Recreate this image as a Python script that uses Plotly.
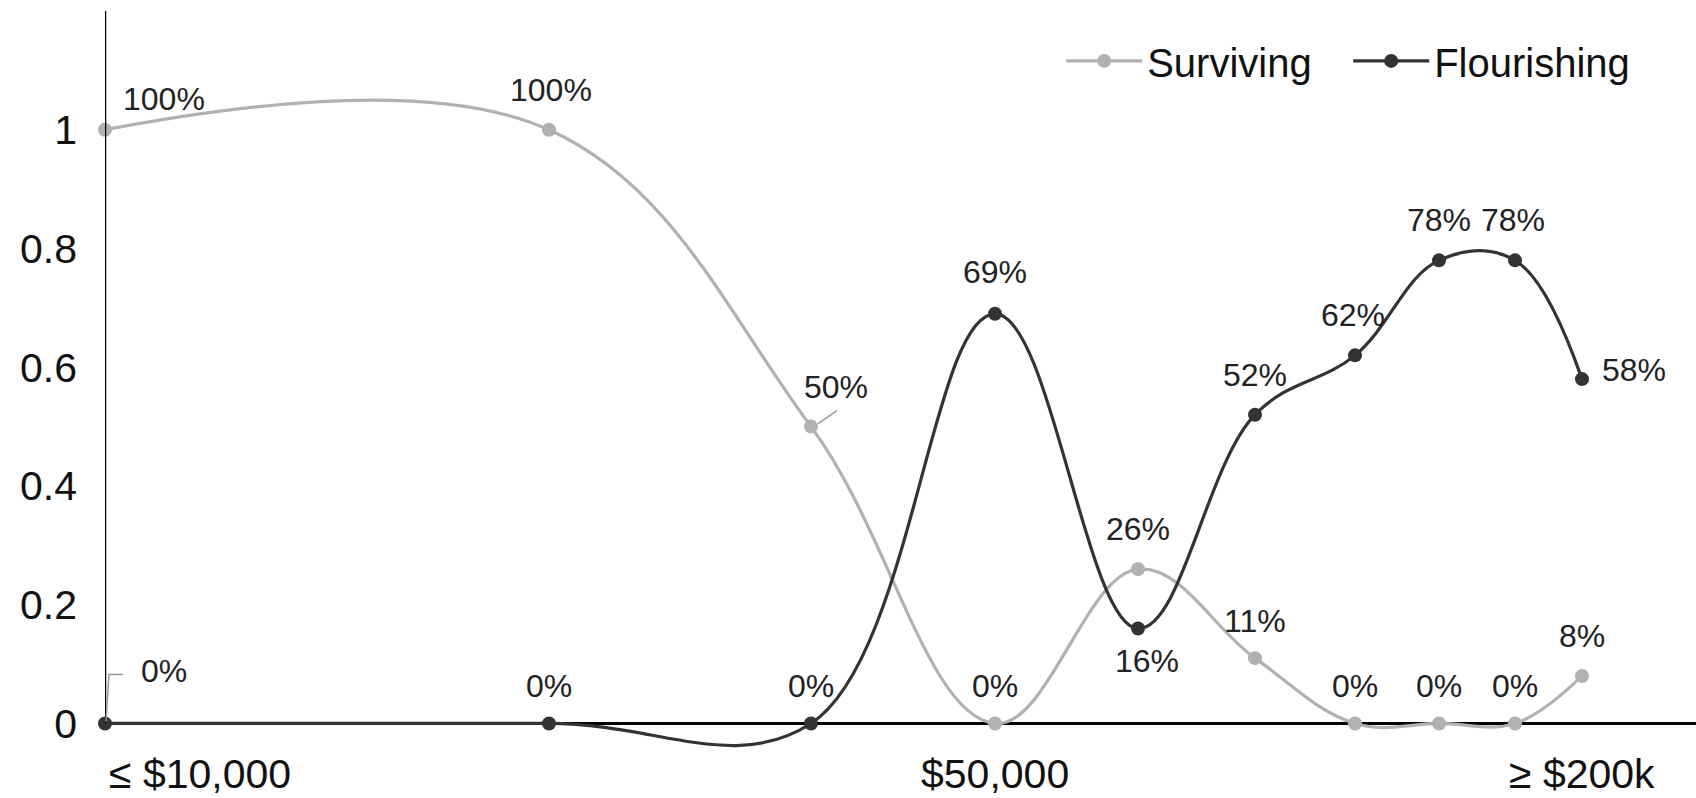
import plotly.graph_objects as go

# Income brackets (only three carry an axis label) and their horizontal positions
bracket_labels = ["≤ $10,000", "", "", "$50,000", "", "", "", "", "", "≥ $200k"]
bracket_pos = [0, 4.44, 7.06, 8.90, 10.33, 11.50, 12.50, 13.34, 14.10, 14.77]

# Share of respondents in each bracket
surviving = [1.00, 1.00, 0.50, 0.00, 0.26, 0.11, 0.00, 0.00, 0.00, 0.08]
flourishing = [0.00, 0.00, 0.00, 0.69, 0.16, 0.52, 0.62, 0.78, 0.78, 0.58]

y_tickvals = [0, 0.2, 0.4, 0.6, 0.8, 1]
y_ticktext = ["0", "0.2", "0.4", "0.6", "0.8", "1"]

FONT = "Liberation Sans, Arial, Helvetica, sans-serif"
GREY = "#b1b1b1"
DARK = "#333333"

# pixel offsets of each value label from its point
surv_off = [(59, 31), (2, 40), (25, 40), (0, 37), (0, 40), (0, 37), (0, 37), (0, 37), (0, 37), (0, 40)]
flour_off = [(59, 52), (0, 37), (0, 37), (0, 42), (9, -33), (0, 40), (-2, 40), (0, 40), (-2, 40), (52, 9)]

fig = go.Figure()
fig.add_trace(go.Scatter(
    x=bracket_pos, y=surviving, name="Surviving", mode="lines+markers",
    line=dict(color=GREY, width=3.2, shape="spline", smoothing=1.1),
    marker=dict(color=GREY, size=14), cliponaxis=False,
))
fig.add_trace(go.Scatter(
    x=bracket_pos, y=flourishing, name="Flourishing", mode="lines+markers",
    line=dict(color=DARK, width=3.2, shape="spline", smoothing=1.1),
    marker=dict(color=DARK, size=14), cliponaxis=False,
))

annotations = []
for series, offs in ((surviving, surv_off), (flourishing, flour_off)):
    for xv, yv, (dx, dy) in zip(bracket_pos, series, offs):
        annotations.append(dict(
            x=xv, y=yv, xref="x", yref="y", text=f"{round(yv * 100)}%",
            showarrow=False, xshift=dx, yshift=dy,
            font=dict(family=FONT, size=32, color="#222222"),
        ))

# bracket labels under the axis
for xv, lab in zip(bracket_pos, bracket_labels):
    if not lab:
        continue
    first = xv == bracket_pos[0]
    annotations.append(dict(
        x=xv, y=0, xref="x", yref="paper", text=lab, showarrow=False,
        xanchor="left" if first else "center", yanchor="top",
        xshift=2 if first else 0, yshift=19,
        font=dict(family=FONT, size=41, color="#111111"),
    ))

shapes = [
    # vertical axis from 0 up to the top of the range
    dict(type="line", xref="x", yref="y", x0=0, x1=0, y0=0, y1=1.2,
         line=dict(color="black", width=2.5), layer="above"),
    # leader lines for the two offset labels
    dict(type="path", xref="x", yref="y", xsizemode="pixel", ysizemode="pixel",
         xanchor=bracket_pos[0], yanchor=flourishing[0],
         path="M 1 2 L 4 49 L 18 49", line=dict(color="#999999", width=1.5)),
    dict(type="path", xref="x", yref="y", xsizemode="pixel", ysizemode="pixel",
         xanchor=bracket_pos[2], yanchor=surviving[2],
         path="M 7 3 L 26 16", line=dict(color="#999999", width=1.5)),
]

fig.update_layout(
    width=1696, height=798,
    margin=dict(l=105, r=0, t=11, b=30),
    paper_bgcolor="white", plot_bgcolor="white",
    font=dict(family=FONT, color="#111111"),
    showlegend=True,
    legend=dict(orientation="h", x=0.601, y=0.977, xanchor="left", yanchor="top",
                font=dict(family=FONT, size=40, color="#111111"),
                itemwidth=76, entrywidth=196, entrywidthmode="pixels",
                bgcolor="rgba(0,0,0,0)"),
    xaxis=dict(range=[0, 15.91], showgrid=False, zeroline=False, showline=False,
               showticklabels=False, ticks=""),
    yaxis=dict(range=[-0.075, 1.2], showgrid=False, zeroline=True,
               zerolinecolor="black", zerolinewidth=2.5, showline=False,
               tickvals=y_tickvals, ticktext=y_ticktext, ticks="",
               ticklabelstandoff=27,
               tickfont=dict(family=FONT, size=41, color="#111111")),
    annotations=annotations,
    shapes=shapes,
)

fig.write_html("out.html")
